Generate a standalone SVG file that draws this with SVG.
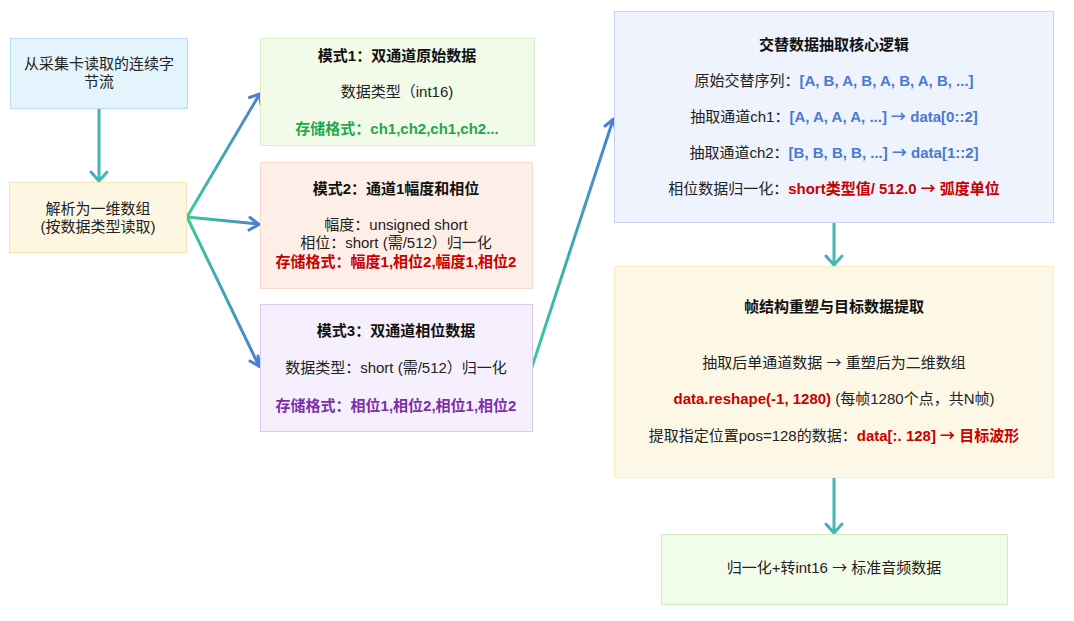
<svg xmlns="http://www.w3.org/2000/svg" width="1074" height="621" viewBox="0 0 1074 621">
<defs>
<style>
text{font-family:"Liberation Sans","Noto Sans CJK SC",sans-serif;font-size:15px;fill:#222;text-anchor:middle}
.t{font-weight:bold;fill:#111}
.green{fill:#1ea84a;font-weight:bold}
.red{fill:#c80000;font-weight:bold}
.purple{fill:#7a2fa8;font-weight:bold}
.blue{fill:#4a79d2;font-weight:bold}
.ar{font-family:"Noto Sans CJK SC",sans-serif}
.ln{fill:none;stroke-width:3;stroke-linecap:round}
.hd{fill:none;stroke-width:3;stroke-linecap:round;stroke-linejoin:round}
</style>
<linearGradient id="g1" gradientUnits="userSpaceOnUse" x1="187" y1="217" x2="260" y2="93"><stop offset="0" stop-color="#3ccb96"/><stop offset="1" stop-color="#4a7fd4"/></linearGradient>
<linearGradient id="g2" gradientUnits="userSpaceOnUse" x1="187" y1="217" x2="260" y2="224"><stop offset="0" stop-color="#3ccb96"/><stop offset="1" stop-color="#4a7fd4"/></linearGradient>
<linearGradient id="g3" gradientUnits="userSpaceOnUse" x1="187" y1="217" x2="260" y2="367"><stop offset="0" stop-color="#3ccb96"/><stop offset="1" stop-color="#4a7fd4"/></linearGradient>
<linearGradient id="g4" gradientUnits="userSpaceOnUse" x1="532" y1="367" x2="614" y2="118"><stop offset="0" stop-color="#3ccb96"/><stop offset="1" stop-color="#4a7fd4"/></linearGradient>
<linearGradient id="gv" x1="0" y1="0" x2="1" y2="1"><stop offset="0" stop-color="#4a9fd0"/><stop offset="1" stop-color="#3ccb96"/></linearGradient>
</defs>
<rect width="1074" height="621" fill="#fff"/>

<g id="connectors">
<line class="ln" x1="99" y1="109" x2="99" y2="180" stroke="#45b5b5"/>
<polyline class="hd" points="91,172 99,181 107,172" stroke="url(#gv)"/>

<line class="ln" x1="187" y1="217" x2="259" y2="95" stroke="url(#g1)"/>
<polyline class="hd" points="249.5,97.5 259.5,94 261,104.5" stroke="#4a7fd4"/>

<line class="ln" x1="187" y1="217" x2="258" y2="224" stroke="url(#g2)"/>
<polyline class="hd" points="250,217.5 259,224.5 249,230" stroke="#4a7fd4"/>

<line class="ln" x1="187" y1="217" x2="259" y2="366" stroke="url(#g3)"/>
<polyline class="hd" points="258,356 259.5,366.5 250,361" stroke="#4a7fd4"/>

<line class="ln" x1="532" y1="367" x2="613" y2="120" stroke="url(#g4)"/>
<polyline class="hd" points="605,126 613.5,119 615.5,129.5" stroke="#4a7fd4"/>

<line class="ln" x1="834" y1="223" x2="834" y2="264" stroke="#45b5b5"/>
<polyline class="hd" points="826,256 834,265 842,256" stroke="url(#gv)"/>

<line class="ln" x1="834" y1="478" x2="834" y2="532" stroke="#45b5b5"/>
<polyline class="hd" points="826,524 834,533 842,524" stroke="url(#gv)"/>
</g>

<g id="n-source">
<rect x="10.5" y="38.5" width="177" height="70" fill="#e3f4fd" stroke="#bcdcf7"/>
<text x="99" y="69">从采集卡读取的连续字</text>
<text x="99" y="87">节流</text>
</g>

<g id="n-parse">
<rect x="9.5" y="182.5" width="177" height="70" fill="#fdf6e3" stroke="#f5e4b4"/>
<text x="98" y="214">解析为一维数组</text>
<text x="98" y="232">(按数据类型读取)</text>
</g>

<g id="n-mode1">
<rect x="260.5" y="38.5" width="274" height="107" fill="#f2faea" stroke="#d6efc8"/>
<text class="t" x="397" y="61">模式1：双通道原始数据</text>
<text x="397" y="97">数据类型（int16)</text>
<text class="green" x="397" y="134">存储格式：ch1,ch2,ch1,ch2...</text>
</g>

<g id="n-mode2">
<rect x="260.5" y="162.5" width="272" height="126" fill="#fdefe7" stroke="#f8d9cd"/>
<text class="t" x="396" y="194">模式2：通道1幅度和相位</text>
<text x="396" y="230">幅度：unsigned short</text>
<text x="396" y="248">相位：short (需/512）归一化</text>
<text class="red" x="396" y="267">存储格式：幅度1,相位2,幅度1,相位2</text>
</g>

<g id="n-mode3">
<rect x="260.5" y="304.5" width="272" height="127" fill="#f6effd" stroke="#dcc9f2"/>
<text class="t" x="396" y="336">模式3：双通道相位数据</text>
<text x="396" y="373">数据类型：short (需/512）归一化</text>
<text class="purple" x="396" y="411">存储格式：相位1,相位2,相位1,相位2</text>
</g>

<g id="n-core">
<rect x="614.5" y="11.5" width="439" height="211" fill="#eef3fd" stroke="#c6d1f5"/>
<text class="t" x="834" y="50">交替数据抽取核心逻辑</text>
<text x="834" y="86">原始交替序列：<tspan class="blue">[A, B, A, B, A, B, A, B, ...]</tspan></text>
<text x="834" y="122">抽取通道ch1：<tspan class="blue">[A, A, A, A, ...] <tspan class="ar">→</tspan> data[0::2]</tspan></text>
<text x="834" y="158">抽取通道ch2：<tspan class="blue">[B, B, B, B, ...] <tspan class="ar">→</tspan> data[1::2]</tspan></text>
<text x="834" y="194">相位数据归一化：<tspan class="red">short类型值/ 512.0 <tspan class="ar">→</tspan> 弧度单位</tspan></text>
</g>

<g id="n-frame">
<rect x="614.5" y="266.5" width="439" height="211" fill="#fdf8e6" stroke="#f7eac2"/>
<text class="t" x="834" y="312">帧结构重塑与目标数据提取</text>
<text x="834" y="368">抽取后单通道数据 <tspan class="ar">→</tspan> 重塑后为二维数组</text>
<text x="834" y="404"><tspan class="red">data.reshape(-1, 1280)</tspan> (每帧1280个点，共N帧)</text>
<text x="834" y="441">提取指定位置pos=128的数据：<tspan class="red">data[:. 128] <tspan class="ar">→</tspan> 目标波形</tspan></text>
</g>

<g id="n-final">
<rect x="661.5" y="534.5" width="346" height="70" fill="#f2fcea" stroke="#cdeebb"/>
<text x="834" y="573">归一化+转int16 <tspan class="ar">→</tspan> 标准音频数据</text>
</g>
</svg>
